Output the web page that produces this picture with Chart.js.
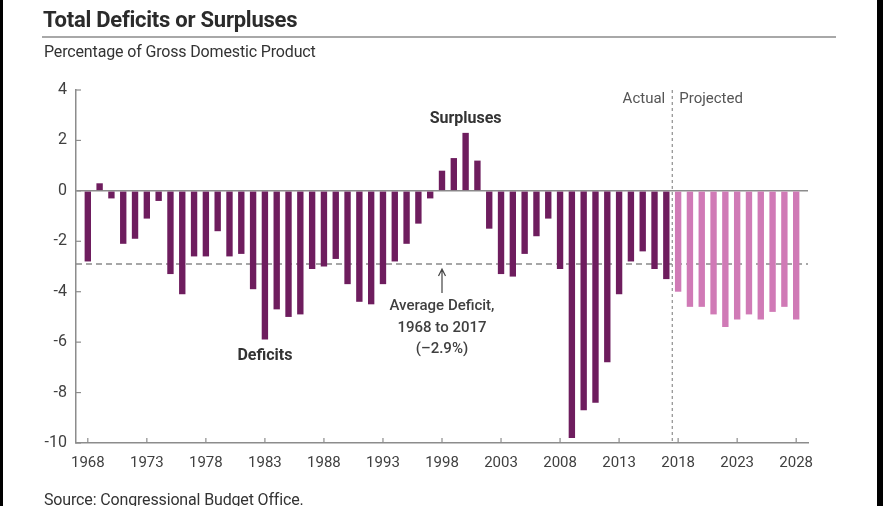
<!DOCTYPE html>
<html>
<head>
<meta charset="utf-8">
<script src="https://cdn.jsdelivr.net/npm/chart.js@4.4.1/dist/chart.umd.min.js"></script>
<style>
    html, body { margin: 0; padding: 0; background: #fff; }
    #wrap { position: relative; width: 883px; height: 506px; overflow: hidden; font-family: Roboto, "Open Sans", sans-serif; color: #2b2b2b; }
    #chart { position: absolute; left: 0; top: 0; }
    .title { position: absolute; left: 43px; top: 9px; font-size: 22px; line-height: 22px; font-weight: 700; letter-spacing: -0.25px; white-space: nowrap; }
    .rule { position: absolute; left: 42px; top: 36px; width: 794px; height: 2px; background: #a8a8a8; }
    .sub { position: absolute; left: 44px; top: 44px; font-size: 16px; line-height: 16px; letter-spacing: -0.15px; color: #333; white-space: nowrap; }
    .src { position: absolute; left: 44px; top: 492px; font-size: 16px; line-height: 16px; letter-spacing: -0.15px; color: #333; white-space: nowrap; }
    .edge { position: absolute; top: 0; height: 506px; background: #000; }
</style>
</head>
<body>
<div id="wrap">
    <canvas id="chart" width="883" height="506"></canvas>
    <div class="title">Total Deficits or Surpluses</div>
    <div class="rule"></div>
    <div class="sub">Percentage of Gross Domestic Product</div>
    <div class="src">Source: Congressional Budget Office.</div>
    <div class="edge" style="left:0;width:3px;"></div>
    <div class="edge" style="left:877px;width:6px;"></div>
</div>
<script>
// ===== 데이터 =====
// 실제 1968-2017, 전망 2018-2028 (GDP 대비 %)
const actualValues = [
    -2.8, 0.3, -0.3, -2.1, -1.9, -1.1, -0.4, -3.3, -4.1, -2.6,
    -2.6, -1.6, -2.6, -2.5, -3.9, -5.9, -4.7, -5.0, -4.9, -3.1,
    -3.0, -2.7, -3.7, -4.4, -4.5, -3.7, -2.8, -2.1, -1.3, -0.3,
    0.8, 1.3, 2.3, 1.2, -1.5, -3.3, -3.4, -2.5, -1.8, -1.1,
    -3.1, -9.8, -8.7, -8.4, -6.8, -4.1, -2.8, -2.4, -3.1, -3.5
];
const projectedValues = [-4.0, -4.6, -4.6, -4.9, -5.4, -5.1, -4.9, -5.1, -4.8, -4.6, -5.1];
const firstYear = 1968;
const tickYears = ['1968', '1973', '1978', '1983', '1988', '1993', '1998', '2003', '2008', '2013', '2018', '2023', '2028'];
const yTicks = [4, 2, 0, -2, -4, -6, -8, -10];
const averageDeficit = -2.9;

const ACTUAL_COLOR = '#6e1d5e';
const PROJECTED_COLOR = '#d07ab6';
const AXIS_COLOR = '#8c8c8c';
const TEXT_COLOR = '#404040';

// 양쪽에 빈 칸 하나씩 (1967, 2029)
const allValues = [null, ...actualValues, ...projectedValues, null];
const categories = allValues.map((_, i) => String(firstYear - 1 + i));

// ===== 주석 플러그인 =====
const annotationPlugin = {
    id: 'annotations',
    beforeDatasetsDraw(chart) {
        const { ctx, chartArea, scales } = chart;
        const y = scales.y.getPixelForValue(averageDeficit);
        ctx.save();
        ctx.strokeStyle = '#8a8a8a';
        ctx.lineWidth = 1.3;
        ctx.setLineDash([6, 4]);
        ctx.beginPath();
        ctx.moveTo(chartArea.left, y);
        ctx.lineTo(chartArea.right, y);
        ctx.stroke();
        ctx.restore();
    },
    afterDatasetsDraw(chart) {
        const { ctx, chartArea, scales } = chart;
        const x = scales.x;
        const yS = scales.y;
        ctx.save();

        // 안쪽 눈금
        ctx.strokeStyle = AXIS_COLOR;
        ctx.lineWidth = 1.2;
        tickYears.forEach(yr => {
            const px = x.getPixelForValue(categories.indexOf(yr));
            ctx.beginPath();
            ctx.moveTo(px, chartArea.bottom);
            ctx.lineTo(px, chartArea.bottom - 5);
            ctx.stroke();
        });
        yTicks.forEach(v => {
            const py = yS.getPixelForValue(v);
            ctx.beginPath();
            ctx.moveTo(chartArea.left, py);
            ctx.lineTo(chartArea.left + 5, py);
            ctx.stroke();
        });

        // 실제 / 전망 구분선
        const divX = x.getPixelForValue(categories.indexOf('2017') + 0.5);
        ctx.strokeStyle = '#777';
        ctx.lineWidth = 1;
        ctx.setLineDash([3, 3]);
        ctx.beginPath();
        ctx.moveTo(divX, chartArea.top);
        ctx.lineTo(divX, chartArea.bottom);
        ctx.stroke();
        ctx.setLineDash([]);

        ctx.fillStyle = '#555';
        ctx.font = '15px Roboto';
        ctx.textBaseline = 'alphabetic';
        ctx.textAlign = 'right';
        ctx.fillText('Actual', divX - 7, 103);
        ctx.textAlign = 'left';
        ctx.fillText('Projected', divX + 7, 103);

        // 라벨
        ctx.fillStyle = '#333';
        ctx.font = 'bold 16px Roboto';
        ctx.textAlign = 'center';
        ctx.fillText('Surpluses', x.getPixelForValue(categories.indexOf('2000')), 123);
        ctx.fillText('Deficits', x.getPixelForValue(categories.indexOf('1983')), 360);

        // 평균 적자 화살표
        const ax = x.getPixelForValue(categories.indexOf('1998'));
        const ay = yS.getPixelForValue(averageDeficit);
        ctx.strokeStyle = '#444';
        ctx.lineWidth = 1.2;
        ctx.beginPath();
        ctx.moveTo(ax, ay + 5);
        ctx.lineTo(ax, ay + 29);
        ctx.moveTo(ax - 3.5, ay + 12);
        ctx.lineTo(ax, ay + 5);
        ctx.lineTo(ax + 3.5, ay + 12);
        ctx.stroke();

        ctx.fillStyle = TEXT_COLOR;
        ctx.font = '500 15px Roboto';
        ctx.fillText('Average Deficit,', ax, 310);
        ctx.fillText('1968 to 2017', ax, 332);
        ctx.fillText('(\u20132.9%)', ax, 353);

        ctx.restore();
    }
};

// ===== 차트 =====
new Chart(document.getElementById('chart').getContext('2d'), {
    type: 'bar',
    data: {
        labels: categories,
        datasets: [{
            data: allValues,
            backgroundColor: c => (c.dataIndex > actualValues.length ? PROJECTED_COLOR : ACTUAL_COLOR),
            borderWidth: 0,
            barPercentage: 1,
            categoryPercentage: 0.54
        }]
    },
    options: {
        responsive: false,
        animation: false,
        devicePixelRatio: 1,
        layout: { padding: { top: 90, right: 75, bottom: 13, left: 0 } },
        plugins: { legend: { display: false }, tooltip: { enabled: false } },
        scales: {
            x: {
                offset: false,
                grid: { display: false },
                border: { display: true, color: AXIS_COLOR, width: 1.5 },
                ticks: {
                    autoSkip: false,
                    maxRotation: 0,
                    padding: 3,
                    color: TEXT_COLOR,
                    font: { family: 'Roboto', size: 15 },
                    callback: function(value) {
                        const lbl = categories[value];
                        return tickYears.includes(lbl) ? lbl : '';
                    }
                },
                afterFit: scale => { scale.height = 50; }
            },
            y: {
                min: -10,
                max: 4,
                ticks: {
                    stepSize: 2,
                    padding: 9,
                    color: TEXT_COLOR,
                    font: { family: 'Roboto', size: 16 }
                },
                grid: {
                    drawTicks: false,
                    color: c => (c.tick && c.tick.value === 0 ? AXIS_COLOR : 'rgba(0,0,0,0)'),
                    lineWidth: 1.5
                },
                border: { display: true, color: AXIS_COLOR, width: 1.5 },
                afterFit: scale => { scale.width = 76; }
            }
        }
    },
    plugins: [annotationPlugin]
});
</script>
</body>
</html>
